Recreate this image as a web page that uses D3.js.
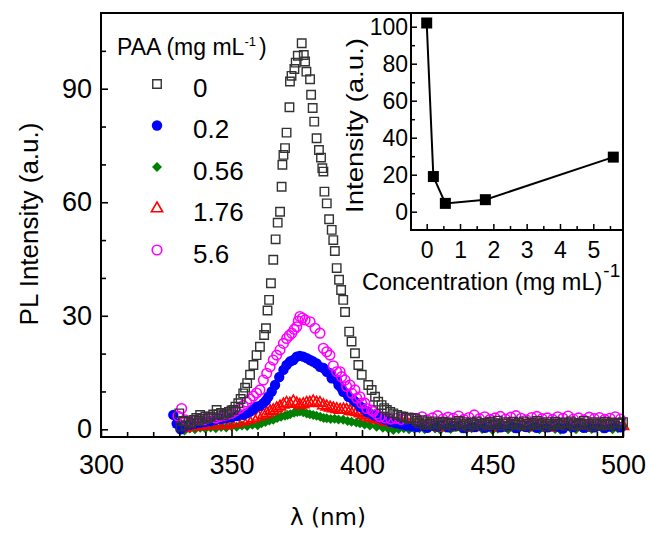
<!DOCTYPE html>
<html><head><meta charset="utf-8">
<script src="https://cdn.jsdelivr.net/npm/d3@7"></script>
<style>
body{margin:0;background:#fff;}
text{font-family:"Liberation Sans",Arial,sans-serif;fill:#000;}
</style>
</head><body>
<svg id="c" width="650" height="536"></svg>
<script>
// ---------- DATA ----------
const concLabels = ["0", "0.2", "0.56", "1.76", "5.6"];
const xTickLabels = [300, 350, 400, 450, 500];
const yTickLabels = [0, 30, 60, 90];

const tailAll = [421,422,423,424,425,426,427,428,429,430,431,432,433,434,435,436,437,438,439,440,
  441,442,443,444,445,446,447,448,449,450,451,452,453,454,455,456,457,458,459,460,
  461,462,463,464,465,466,467,468,469,470,471,472,473,474,475,476,477,478,479,480,
  481,482,483,484,485,486,487,488,489,490,491,492,493,494,495,496,497,498,499,500];
const tailOdd = [421,423,425,427,429,431,433,435,437,439,441,443,445,447,449,451,453,455,457,459,
  461,463,465,467,469,471,473,475,477,479,481,483,485,487,489,491,493,495,497,499];
const tailEven = [422,424,426,428,430,432,434,436,438,440,442,444,446,448,450,452,454,456,458,460,
  462,464,466,468,470,472,474,476,478,480,482,484,486,488,490,492,494,496,498,500];

// PAA 0
const wl0Peak = [330.0,330.5,331.5,332.5,333.5,334.5,335.5,336.5,337.5,338.0,339.0,340.0,341.0,342.0,343.0,344.3,345.0,346.0,347.0,348.2,
  349.0,350.0,350.7,351.5,352.6,353.5,354.5,355.2,356.0,357.1,358.4,359.6,360.9,362.5,363.2,363.8,364.4,365.1,366.0,366.9,
  367.7,368.6,369.2,369.5,369.9,370.5,371.1,372.2,372.4,373.0,374.1,374.6,375.4,376.9,377.7,378.2,378.7,380.1,380.5,381.1,
  381.7,382.6,383.5,384.3,384.8,385.2,385.6,386.5,387.4,388.4,389.0,389.6,390.3,391.2,392.0,392.8,393.5,395.1,396.0,397.3,
  398.6,399.9,402.4,403.7,405.0,406.2,407.5,408.5,409.5,410.8,412.0,413.5,415.0,415.8,417.0,418.0,419.0,420.3];
const pl0Peak = [4.2,0.7,2.2,1.1,2.0,1.6,2.5,3.0,2.2,3.8,2.8,3.4,2.9,3.3,3.9,5.1,4.0,4.3,3.7,4.2,
  4.6,5.0,5.1,6.0,6.9,8.0,9.5,11.0,12.2,14.4,17.0,19.6,21.8,24.9,26.7,31.4,34.2,38.6,44.8,50.2,
  54.6,57.5,64.1,69.9,72.5,74.3,78.4,85.1,91.9,93.4,95.2,96.9,98.7,102.0,98.9,97.2,94.5,92.5,88.4,84.9,
  81.3,76.9,73.8,71.8,69.0,68.1,62.8,59.7,55.5,52.7,50.0,47.1,42.6,39.5,36.8,34.2,31.0,25.8,23.2,20.1,
  17.0,14.4,11.7,10.4,8.6,7.3,6.4,5.6,5.1,4.6,4.2,3.8,3.4,3.3,3.1,2.7,3.0,2.9];
const pl0Tail = [2.2,1.6,2.4,1.2,1.9,1.4,2.1,0.9,1.7,1.3,2.0,1.1,1.8,1.5,0.8,1.6,2.2,1.0,1.9,1.4,
  0.7,1.8,1.2,2.1,1.5,0.9,1.7,1.3,2.0,1.1,1.6,2.3,1.0,1.5,1.9,0.8,1.4,2.0,1.2,1.7,
  1.0,2.1,1.4,0.9,1.8,1.3,2.2,1.1,1.6,0.8,1.9,1.4,1.0,2.0,1.5,1.2,1.8,0.9,1.6,2.1,
  1.3,1.0,1.7,1.4,2.2,1.1,1.5,0.8,1.9,1.3,1.6,1.0,2.0,1.4,1.2,1.8,0.9,1.5,1.7,1.9];

// PAA 0.2
const wl1Peak = [327.7,329.0,330.5,332.0,334.0,336.0,338.0,340.0,342.0,344.0,346.0,348.0,350.0,352.0,354.5,355.8,357.1,358.4,359.6,360.9,
  362.2,363.2,364.1,365.4,366.7,368.3,369.9,371.1,372.4,373.7,375.0,376.2,377.5,378.8,380.1,381.3,382.6,383.9,385.2,386.5,
  387.7,388.4,390.3,391.0,392.2,392.8,394.1,394.8,396.7,397.3,399.2,399.9,401.8,402.4,404.3,405.0,407.0,409.0,411.0,413.0,
  415.0,417.0,419.0];
const pl1Peak = [3.8,1.5,0.0,0.8,1.2,1.5,1.8,2.0,2.2,2.5,2.8,3.0,3.2,3.5,3.8,4.2,4.7,5.3,6.0,6.2,
  6.9,7.6,8.6,10.0,11.7,13.8,15.7,17.0,17.9,18.3,19.2,19.4,19.2,18.8,18.3,17.9,17.4,16.5,16.2,15.2,
  14.8,13.5,13.0,11.7,10.8,9.9,9.5,8.6,7.7,7.3,6.0,5.8,4.7,4.5,3.8,3.6,3.0,2.5,2.0,1.6,
  1.3,1.0,0.8];
const pl1Tail = [0.6,1.0,0.4,0.9,0.7,1.2,0.5,0.8,1.1,0.3,0.9,0.6,1.0,0.4,0.8,1.2,0.5,0.7,1.0,0.3,
  0.9,0.6,1.1,0.4,0.8,0.5,1.0,0.7,0.2,0.9,0.6,1.1,0.4,0.8,0.5,1.0,0.3,0.7,0.9,0.5];

// PAA 0.56
const wl2Peak = [330,332,334,336,338,340,342,344,346,348,350,352,354,356,358,360,
  361.5,363,364.5,366,367.5,369,370.5,371.5,372.5,374,375.2,376.2,377.5,378.8,380,381.3,382.6,384,385.3,386.5,
  388,389.5,391,392.8,394.5,396,397.8,399.2,401,403,405.6,408,410,412,414,416,418,420];
const pl2Peak = [0.5,-0.3,0.2,0.0,0.4,0.2,0.5,0.3,0.6,0.5,0.8,0.7,1.0,0.9,1.2,1.1,
  1.6,1.9,2.3,2.5,3.0,3.3,3.6,3.8,4.0,4.4,4.6,4.7,4.5,4.2,4.0,3.8,3.6,3.3,3.0,2.9,
  2.7,2.8,2.6,2.5,2.2,2.0,1.8,1.6,1.3,1.0,0.7,0.4,0.2,-0.2,0.1,0.3,0.0,0.2];
const pl2Tail = [0.3,0.0,0.5,0.2,-0.1,0.4,0.1,0.6,0.2,0.0,0.3,0.5,0.1,0.4,-0.2,0.2,0.5,0.0,0.3,0.1,
  0.6,0.2,0.4,0.0,0.3,0.5,0.1,-0.1,0.4,0.2,0.0,0.5,0.3,0.1,0.4,0.2,0.6,0.0,0.3,0.4];

// PAA 1.76
const wl3Peak = [330,332,334,335.4,337,339,341,343,345,347,348.2,350,352,354.5,356.5,358.4,360.3,362.2,363.5,364.8,
  366,367.3,368.6,369.9,371.1,372.4,373.7,375,376.2,377.5,378.8,380,381.3,382.6,383.9,385.2,386.5,387.8,389,390.3,
  391.6,392.9,394.1,395.4,396.7,398,399.2,400.5,401.8,403,404.3,405.6,406.9,408.5,410,412,414,416,418,420];
const pl3Peak = [1.5,0.3,0.8,0.7,1.0,0.8,1.2,1.0,1.3,1.2,1.1,1.5,1.7,2.0,2.5,2.9,3.3,3.8,4.2,4.7,
  5.0,5.5,6.0,6.5,6.9,6.7,7.3,6.8,6.4,6.6,6.9,7.0,7.3,7.0,6.9,6.3,6.0,5.7,5.5,5.3,
  5.1,5.2,5.1,4.8,4.7,4.5,4.2,3.8,3.3,3.1,2.9,2.7,2.5,2.1,1.9,1.6,1.4,1.2,1.1,1.0];
const pl3Tail = [0.9,0.6,1.1,0.8,0.5,1.0,0.7,1.2,0.6,0.9,0.4,1.0,0.8,1.1,0.5,0.9,0.7,1.2,0.6,0.8,
  1.0,0.5,0.9,1.1,0.7,0.4,1.0,0.8,0.6,1.2,0.7,0.9,0.5,1.0,0.8,0.6,1.1,0.7,0.9,0.8];

// PAA 5.6
const wl4Peak = [329.5,330.9,332.2,333.5,335,336.5,338,339.5,341,342.5,344,345.5,347,348.5,350,351.5,353,354.5,355.8,357.1,
  358.4,359.6,360.9,362.2,363.5,364.8,366,367.3,368.6,369.9,371.1,372.1,373.1,374,375,375.6,376.2,377.2,378.2,380.1,
  382,383.9,385.2,386.5,387.7,389,390.3,391.6,392.2,393.5,394.1,395.4,396.1,397.3,398,399.2,399.9,401.1,401.8,403.7,
  404.3,405.6,406.9,409,411,413,415,417,419];
const pl4Peak = [3.5,5.5,2.5,1.8,2.2,2.5,2.8,2.6,3.0,3.2,3.0,3.4,3.6,3.9,4.2,4.8,5.5,6.3,7.2,8.0,
  8.8,9.6,10.4,13.0,14.8,16.5,18.3,19.6,21.0,22.7,24.0,24.8,25.4,26.4,27.1,28.6,29.8,29.4,28.9,28.4,
  26.7,25.4,21.4,20.5,19.6,16.8,15.2,15.2,13.9,13.0,11.3,11.7,9.5,10.4,8.2,8.6,6.9,6.9,5.5,5.1,
  4.7,4.0,3.3,3.0,2.7,2.9,2.6,2.8,3.0];
const pl4Tail = [2.8,3.3,2.5,3.0,3.6,2.7,3.2,2.9,3.5,2.6,3.1,3.8,2.8,3.3,2.6,3.0,3.4,2.7,3.2,3.6,
  2.9,2.5,3.1,3.4,2.8,3.0,2.6,3.3,2.9,3.5,2.7,3.0,2.5,3.2,2.8,3.1,2.6,2.9,3.3,2.7];

// inset
const insetConc = [0, 0.2, 0.56, 1.76, 5.6];
const insetPeak = [102, 19, 4.5, 6.5, 29.5];
const insetXTickLabels = [0, 1, 2, 3, 4, 5];
const insetYTickLabels = [0, 20, 40, 60, 80, 100];

// ---------- BUILD ----------
const wl0 = wl0Peak.concat(tailAll), pl0 = pl0Peak.concat(pl0Tail);
const wl1 = wl1Peak.concat(tailOdd), pl1 = pl1Peak.concat(pl1Tail);
const wl2 = wl2Peak.concat(tailEven), pl2 = pl2Peak.concat(pl2Tail);
const wl3 = wl3Peak.concat(tailEven), pl3 = pl3Peak.concat(pl3Tail);
const wl4 = wl4Peak.concat(tailOdd), pl4 = pl4Peak.concat(pl4Tail);

const styles = [
  {type: d3.symbolSquare, size: 72, rot: 0, fill: "none", stroke: "#333", sw: 1.4},
  {type: d3.symbolCircle, size: 85, rot: 0, fill: "#0000ff", stroke: "none", sw: 0},
  {type: d3.symbolSquare, size: 50, rot: 45, fill: "#008000", stroke: "none", sw: 0},
  {type: d3.symbolTriangle, size: 55, rot: 0, fill: "none", stroke: "#ff0000", sw: 1.6},
  {type: d3.symbolCircle, size: 72, rot: 0, fill: "none", stroke: "#ff00ff", sw: 1.6}
];
const series = [
  {wl: wl0, pl: pl0}, {wl: wl1, pl: pl1}, {wl: wl2, pl: pl2}, {wl: wl3, pl: pl3}, {wl: wl4, pl: pl4}
].map((s, i) => Object.assign(s, {label: concLabels[i], style: styles[i]}));

const svg = d3.select("#c");
const L = 101, R = 623, T = 13, B = 437;
const x = d3.scaleLinear().domain([300, 500]).range([L, R]);
const y = d3.scaleLinear().domain([0, 90]).range([429.3, 88.7]);

function sym(sel, st) {
  sel.attr("d", d3.symbol().type(st.type).size(st.size)())
    .attr("fill", st.fill).attr("stroke", st.stroke).attr("stroke-width", st.sw);
}

// data
const order = [2, 3, 1, 4, 0];
order.forEach(i => {
  const s = series[i];
  const pts = s.wl.map((w, k) => [w, s.pl[k]]);
  svg.append("g").selectAll("path").data(pts).join("path")
    .call(sym, s.style)
    .attr("transform", d => `translate(${x(d[0])},${y(d[1])}) rotate(${s.style.rot})`);
});

// axes
const gx = svg.append("g").attr("transform", `translate(0,${B})`)
  .call(d3.axisBottom(x).tickValues(d3.range(300, 501, 10)).tickSizeInner(-5).tickSizeOuter(0)
    .tickPadding(18).tickFormat(d => xTickLabels.includes(d) ? d : ""));
gx.select(".domain").remove();
gx.selectAll(".tick line").attr("stroke-width", 1.6).filter(d => d % 50 === 0).attr("y2", -7);
gx.selectAll("text").style("font-size", "27px");

const gy = svg.append("g").attr("transform", `translate(${L},0)`)
  .call(d3.axisLeft(y).tickValues(d3.range(0, 101, 10)).tickSizeInner(-5).tickSizeOuter(0)
    .tickPadding(9).tickFormat(d => yTickLabels.includes(d) ? d : ""));
gy.select(".domain").remove();
gy.selectAll(".tick line").attr("stroke-width", 1.6).filter(d => d % 30 === 0).attr("x2", 7);
gy.selectAll("text").style("font-size", "27px");

svg.append("rect").attr("x", L).attr("y", T).attr("width", R - L).attr("height", B - T)
  .attr("fill", "none").attr("stroke", "#000").attr("stroke-width", 2);

// axis titles
svg.append("text").attr("transform", "translate(38,224) rotate(-90)").attr("text-anchor", "middle")
  .style("font-size", "26px").text("PL Intensity (a.u.)");
svg.append("text").attr("x", 290).attr("y", 525).style("font-family", "'DejaVu Sans',sans-serif")
  .style("font-size", "23px").text("λ (nm)");

// legend
const leg = svg.append("g");
const title = leg.append("text").attr("x", 117).attr("y", 55).style("font-size", "23px");
title.append("tspan").text("PAA (mg mL");
title.append("tspan").attr("dy", -9).style("font-size", "13px").text("-1");
title.append("tspan").attr("dy", 9).attr("dx", 3).text(")");
series.forEach((s, i) => {
  const by = 96.5 + i * 41.5;
  leg.append("path").call(sym, s.style)
    .attr("transform", `translate(157,${by - 12.5}) rotate(${s.style.rot})`);
  leg.append("text").attr("x", 193).attr("y", by).style("font-size", "26px").text(s.label);
});

// inset
const IL = 411, IR = 623, IT = 13, IB = 230;
const ix = d3.scaleLinear().domain([0, 5]).range([426.7, 593.3]);
const iy = d3.scaleLinear().domain([0, 100]).range([211.7, 26.7]);
svg.append("rect").attr("x", IL).attr("y", IT).attr("width", IR - IL).attr("height", IB - IT)
  .attr("fill", "#fff").attr("stroke", "none");
const gix = svg.append("g").attr("transform", `translate(0,${IB})`)
  .call(d3.axisBottom(ix).tickValues(d3.range(0, 5.51, 0.5)).tickSizeInner(-4).tickSizeOuter(0)
    .tickPadding(12).tickFormat(d => insetXTickLabels.includes(d) ? d : ""));
gix.select(".domain").remove();
gix.selectAll(".tick line").attr("stroke-width", 1.5).filter(d => Number.isInteger(d)).attr("y2", -6);
gix.selectAll("text").style("font-size", "23px");
const giy = svg.append("g").attr("transform", `translate(${IL},0)`)
  .call(d3.axisLeft(iy).tickValues(d3.range(0, 101, 10)).tickSizeInner(-4).tickSizeOuter(0)
    .tickPadding(3).tickFormat(d => insetYTickLabels.includes(d) ? d : ""));
giy.select(".domain").remove();
giy.selectAll(".tick line").attr("stroke-width", 1.5).filter(d => d % 20 === 0).attr("x2", 6);
giy.selectAll("text").style("font-size", "23px");
svg.append("rect").attr("x", IL).attr("y", IT).attr("width", IR - IL).attr("height", IB - IT)
  .attr("fill", "none").attr("stroke", "#000").attr("stroke-width", 2);

const ipts = insetConc.map((c, k) => [c, insetPeak[k]]);
svg.append("path").datum(ipts).attr("fill", "none").attr("stroke", "#000").attr("stroke-width", 2)
  .attr("d", d3.line().x(d => ix(d[0])).y(d => iy(d[1])));
svg.append("g").selectAll("rect").data(ipts).join("rect")
  .attr("x", d => ix(d[0]) - 5.5).attr("y", d => iy(d[1]) - 5.5)
  .attr("width", 11).attr("height", 11).attr("fill", "#000");

svg.append("text").attr("transform", "translate(363,125.5) rotate(-90)").attr("text-anchor", "middle")
  .attr("textLength", 175).attr("lengthAdjust", "spacingAndGlyphs")
  .style("font-size", "24px").text("Intensity (a.u.)");
const ct = svg.append("text").attr("x", 362).attr("y", 290).style("font-size", "23.5px");
ct.append("tspan").text("Concentration (mg mL)");
ct.append("tspan").attr("dy", -13).attr("dx", 1).style("font-size", "19px").text("-1");
</script>
</body></html>
